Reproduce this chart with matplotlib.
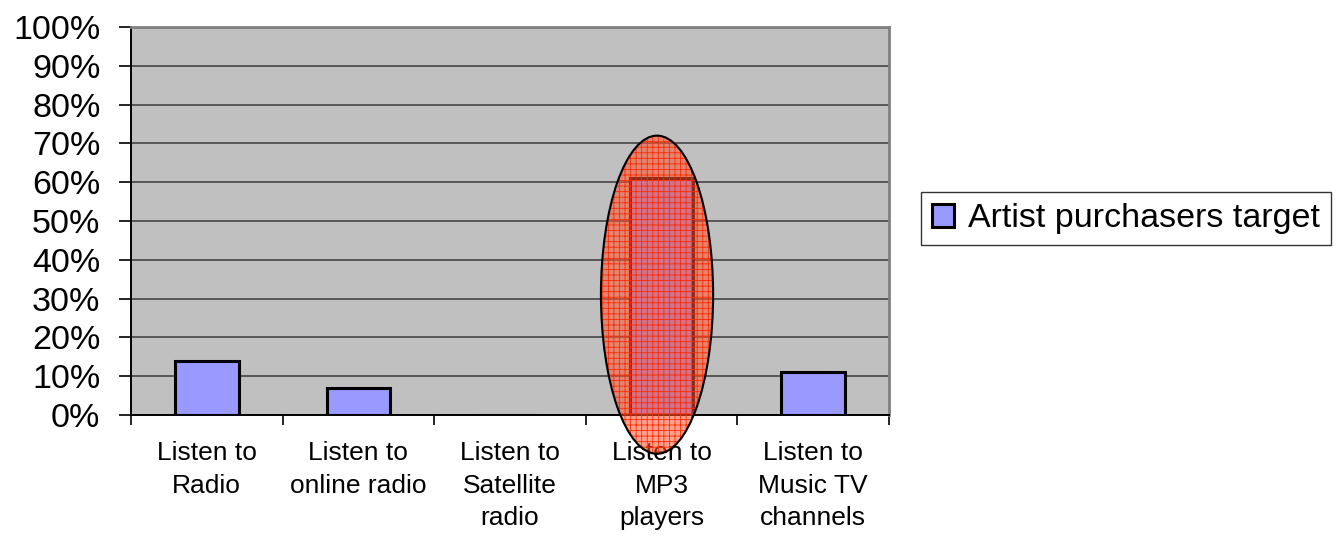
import matplotlib
matplotlib.use("Agg")
import matplotlib.pyplot as plt
from matplotlib.patches import Ellipse

plt.rcParams['font.family'] = ['Liberation Sans', 'DejaVu Sans']
plt.rcParams['hatch.linewidth'] = 0.6

# -----------------------------
# Survey data
# -----------------------------
categories = ["Listen to\nRadio", "Listen to\nonline radio", "Listen to\nSatellite\nradio",
              "Listen to\nMP3\nplayers", "Listen to\nMusic TV\nchannels"]
share = [14, 7, 0, 61, 11]
series_name = "Artist purchasers target"
y_ticks = list(range(0, 101, 10))

# -----------------------------
# Figure and axes
# -----------------------------
fig = plt.figure(figsize=(13.38, 5.37), dpi=100)
ax = fig.add_axes([0.0979, 0.2272, 0.5665, 0.7225])
ax.set_facecolor('#C0C0C0')
ax.set_axisbelow(True)

x = list(range(len(categories)))
ax.bar(x, share, width=0.42, color='#9999FF', edgecolor='black',
       linewidth=2.2, label=series_name)

# highlight around the MP3 column
ring = Ellipse((2.97, 31), 0.74, 82, facecolor=(1.0, 0.33, 0.18, 0.55),
               edgecolor='#FF2A00', hatch='+++', linewidth=0,
               clip_on=False, zorder=3)
ax.add_patch(ring)
outline = Ellipse((2.97, 31), 0.74, 82, facecolor='none', edgecolor='black',
                  linewidth=1.5, clip_on=False, zorder=3.1)
ax.add_patch(outline)

ax.set_xlim(-0.5, len(categories) - 0.5)
ax.set_ylim(0, 100)

# y axis
ax.set_yticks(y_ticks)
ax.set_yticklabels([f"{v}%" for v in y_ticks], fontsize=24.5)
ax.tick_params(axis='y', direction='out', length=9, width=1.2, pad=13)
ax.yaxis.grid(True, color='#3a3a3a', linewidth=1.1)

# x axis: labels at the centres, ticks between categories
ax.set_xticks(x)
ax.set_xticklabels(categories, fontsize=19, linespacing=1.45)
ax.tick_params(axis='x', which='major', length=0, pad=19)
ax.set_xticks([i - 0.5 for i in range(len(categories) + 1)], minor=True)
ax.tick_params(axis='x', which='minor', direction='out', length=7, width=1.2)

for side in ['top', 'right']:
    ax.spines[side].set_color('#808080')
    ax.spines[side].set_linewidth(2.0)
for side in ['left', 'bottom']:
    ax.spines[side].set_color('black')
    ax.spines[side].set_linewidth(1.4)

leg = fig.legend(loc='upper left', bbox_to_anchor=(921 / 1338, 1 - 192 / 537),
                 fontsize=24.5, frameon=True, fancybox=False, borderpad=0.33,
                 handlelength=0.65, handleheight=0.65, handletextpad=0.4,
                 borderaxespad=0)
leg.get_frame().set_edgecolor('black')
leg.get_frame().set_linewidth(1.0)

fig.savefig('out.png', dpi=100)
